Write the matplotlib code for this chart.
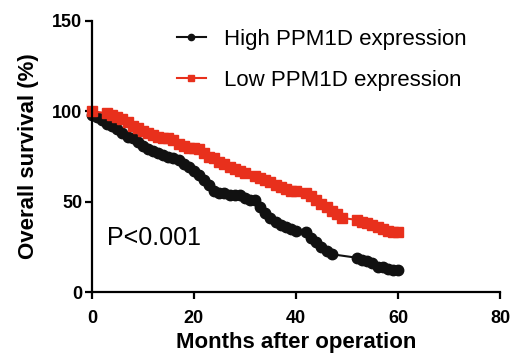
import matplotlib.pyplot as plt

plt.rcParams['font.family'] = ['Liberation Sans', 'DejaVu Sans']

# survival curves (months, %)
high_months = [0, 1, 2, 3, 4, 5, 6, 7, 8, 9, 10, 11, 12, 13, 14, 15, 16, 17, 18, 19,
               20, 21, 22, 23, 24, 25, 26, 27, 28, 29, 30, 31, 32, 33, 34, 35, 36, 37,
               38, 39, 40, 42, 43, 44, 45, 46, 47, 52, 53, 54, 55, 56, 57, 58, 59, 60]
high_surv = [98, 97, 95, 93, 92, 90, 88, 86, 85, 83, 81, 79, 78, 77, 76, 75, 74, 73, 71, 69,
             67, 65, 62, 59, 56, 55, 55, 54, 54, 54, 52, 51, 51, 47, 44, 41, 39, 37,
             36, 35, 34, 33, 30, 28, 25, 23, 21, 19, 18, 17, 16, 14, 14, 13, 12, 12]

low_months = [0, 3, 4, 5, 6, 7, 8, 9, 10, 11, 12, 13, 14, 15, 16, 17, 18, 19, 20, 21,
              22, 23, 24, 25, 26, 27, 28, 29, 30, 32, 33, 34, 35, 36, 37, 38, 39, 40,
              42, 43, 44, 45, 46, 47, 48, 49, 52, 53, 54, 55, 56, 57, 58, 59, 60]
low_surv = [100, 99, 98, 97, 96, 94, 92, 91, 89, 88, 87, 86, 85, 85, 84, 82, 81, 80, 80, 79,
            77, 75, 74, 72, 71, 69, 68, 67, 66, 64, 63, 62, 61, 59, 58, 57, 56, 56,
            55, 53, 51, 49, 47, 45, 43, 41, 40, 39, 38, 37, 36, 35, 34, 33, 33]

fig = plt.figure(figsize=(5.16, 3.55), dpi=100)
ax = fig.add_axes([0.178, 0.177, 0.791, 0.764])

ax.plot(high_months, high_surv, color='#111111', marker='o', markersize=7.5,
        linewidth=1.5, label='High PPM1D expression', clip_on=False)
ax.plot(low_months, low_surv, color='#e8301c', marker='s', markersize=7,
        linewidth=1.5, label='Low PPM1D expression', clip_on=False)

ax.set_xlim(0, 80)
ax.set_ylim(0, 150)
ax.set_xticks([0, 20, 40, 60, 80])
ax.set_yticks([0, 50, 100, 150])
ax.spines['top'].set_visible(False)
ax.spines['right'].set_visible(False)
ax.spines['left'].set_linewidth(1.6)
ax.spines['bottom'].set_linewidth(1.6)
ax.tick_params(direction='out', length=5, width=1.6, labelsize=13)
ax.tick_params(axis='y', pad=2)
ax.tick_params(axis='x', pad=7.5)
for lab in ax.get_xticklabels() + ax.get_yticklabels():
    lab.set_fontweight('bold')

ax.set_xlabel('Months after operation', fontsize=16, fontweight='bold', labelpad=4)
ax.set_ylabel('Overall survival (%)', fontsize=16, fontweight='bold', labelpad=9)

ax.text(3, 30, 'P<0.001', fontsize=18, va='center')

ax.legend(loc='upper left', bbox_to_anchor=(177 / 516, 1 - 29 / 355),
          bbox_transform=fig.transFigure, frameon=False, fontsize=16,
          handlelength=1.3, handletextpad=0.8, labelspacing=0.9,
          markerscale=0.6, borderpad=0, borderaxespad=0)

fig.savefig('out.png', dpi=100)
